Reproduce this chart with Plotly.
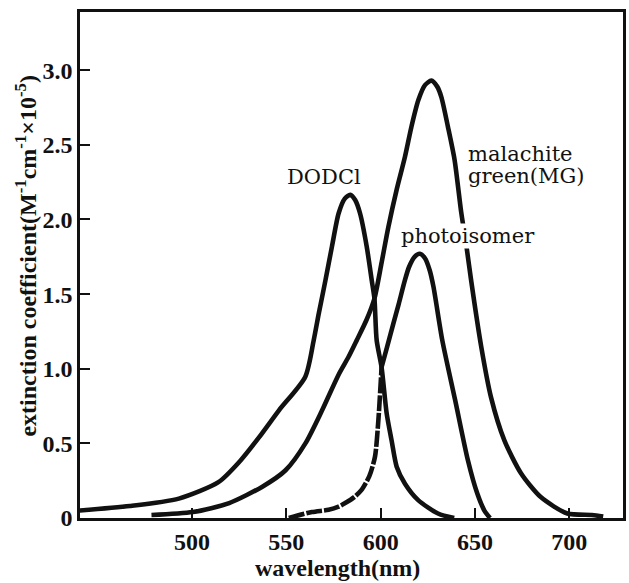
import plotly.graph_objects as go

# ---- data ----
dodcl_nm = [440, 467, 493, 514, 525, 535.5, 546, 560, 564.5, 567.2, 570.7, 574.2, 577.7, 581, 583.9,
            586.5, 589.1, 592.6, 595.3, 596.7, 597.9, 600.5, 603.2, 605.8, 608.5, 612.9, 619.9, 630.4, 639]
dodcl_val = [0.05, 0.08, 0.13, 0.24, 0.375, 0.54, 0.72, 0.945, 1.19, 1.37, 1.59, 1.82, 2.04, 2.14, 2.165,
             2.13, 2.04, 1.82, 1.59, 1.47, 1.19, 1.01, 0.70, 0.52, 0.344, 0.23, 0.12, 0.03, 0.0]

mg_nm = [478.5, 500.4, 519.7, 537.3, 549.6, 560.1, 568.9, 577.7, 583, 587.3, 592.6, 596.7, 600.5, 604.1,
         608.5, 612.9, 616.3, 620, 623.5, 626.9, 630, 632.2, 635.7, 639.2, 642.7, 645.5, 648, 653.3,
         658.5, 665.6, 674.4, 684.9, 699, 712, 718]
mg_val = [0.02, 0.04, 0.10, 0.21, 0.32, 0.50, 0.72, 0.96, 1.08, 1.19, 1.33, 1.47, 1.71, 1.95,
          2.20, 2.42, 2.62, 2.80, 2.90, 2.93, 2.89, 2.82, 2.62, 2.40, 2.05, 1.82, 1.59, 1.15,
          0.81, 0.52, 0.30, 0.14, 0.03, 0.02, 0.01]

photo_low_nm = [551.3, 563.6, 572.4, 577.7, 581.2, 586, 590, 594, 597, 598.8, 600.5]
photo_low_val = [0.0, 0.04, 0.055, 0.076, 0.10, 0.14, 0.19, 0.28, 0.41, 0.656, 1.01]
photo_high_nm = [600.5, 603.5, 606.7, 609.5, 612.8, 615, 618, 620.8, 623.5, 626, 628, 632.7, 639.5,
                 646.2, 651.2, 655, 658]
photo_high_val = [1.01, 1.15, 1.30, 1.43, 1.59, 1.68, 1.75, 1.77, 1.74, 1.66, 1.55, 1.19, 0.79,
                  0.39, 0.165, 0.05, 0.0]

x_ticks = [500, 550, 600, 650, 700]
y_ticks = [0, 0.5, 1.0, 1.5, 2.0, 2.5, 3.0]
y_tick_text = ["0", "0.5", "1.0", "1.5", "2.0", "2.5", "3.0"]

LW = 4.6
INK = "#111111"

fig = go.Figure()
fig.add_trace(go.Scatter(x=dodcl_nm, y=dodcl_val, mode="lines",
                         line=dict(color=INK, width=LW, shape="spline", smoothing=0.7)))
fig.add_trace(go.Scatter(x=mg_nm, y=mg_val, mode="lines",
                         line=dict(color=INK, width=LW, shape="spline", smoothing=0.7)))
fig.add_trace(go.Scatter(x=photo_low_nm, y=photo_low_val, mode="lines",
                         line=dict(color=INK, width=LW, shape="spline", smoothing=0.7,
                                   dash="16px,2px")))
fig.add_trace(go.Scatter(x=photo_high_nm, y=photo_high_val, mode="lines",
                         line=dict(color=INK, width=LW, shape="spline", smoothing=0.7)))

lab_font = dict(family="DejaVu Serif", size=21, color=INK)
fig.add_annotation(x=569.8, y=2.282, text="DODCl", showarrow=False, font=lab_font,
                   xanchor="center", yanchor="middle")
fig.add_annotation(x=645.4, y=2.436, text="malachite", showarrow=False, font=lab_font,
                   xanchor="left", yanchor="middle")
fig.add_annotation(x=645.4, y=2.289, text="green(MG)", showarrow=False, font=lab_font,
                   xanchor="left", yanchor="middle")
fig.add_annotation(x=646.2, y=1.887, text="photoisomer", showarrow=False, font=lab_font,
                   xanchor="center", yanchor="middle", bgcolor="white", borderpad=0)

tick_font = dict(family="Liberation Serif", size=24, color=INK)
fig.add_annotation(xref="paper", yref="paper", x=0.474, y=-0.098,
                   text="<b>wavelength(nm)</b>", showarrow=False,
                   font=dict(family="Liberation Serif", size=24, color=INK),
                   xanchor="center", yanchor="middle")
fig.add_annotation(xref="paper", yref="paper", x=-0.1, y=0.518, textangle=-90,
                   text="<b>extinction coefficient(M<sup>-1</sup>cm<sup>-1</sup>×10<sup>-5</sup>)</b>",
                   showarrow=False,
                   font=dict(family="Liberation Serif", size=24, color=INK),
                   xanchor="center", yanchor="middle")

fig.update_xaxes(range=[440.6, 728.5], tickvals=x_ticks,
                 ticktext=[f"<b>{v}</b>" for v in x_ticks],
                 ticks="inside", ticklen=10, tickwidth=2, tickcolor=INK,
                 showline=True, linewidth=2.5, linecolor=INK, mirror=True,
                 showgrid=False, zeroline=False, tickfont=tick_font)
fig.update_yaxes(range=[0, 3.39], tickvals=y_ticks,
                 ticktext=[f"<b>{t}</b>" for t in y_tick_text],
                 ticks="inside", ticklen=10, tickwidth=2, tickcolor=INK,
                 showline=True, linewidth=2.5, linecolor=INK, mirror=True,
                 showgrid=False, zeroline=False, tickfont=tick_font)

fig.update_layout(width=629, height=583, margin=dict(l=80, r=3, t=12, b=65),
                  plot_bgcolor="white", paper_bgcolor="white", showlegend=False)

fig.write_html("out.html", config={"displayModeBar": False},
               post_script="document.body.style.margin='0';document.body.style.overflow='hidden';")
